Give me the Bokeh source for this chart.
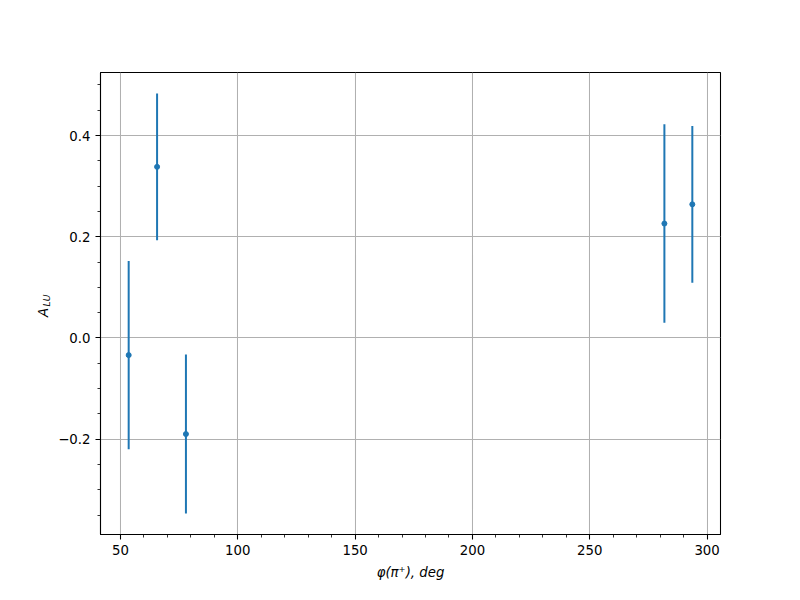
import math
from bokeh.plotting import figure
from bokeh.models import (Range1d, FixedTicker, CustomJSTickFormatter, Label,
                          ColumnDataSource)
from bokeh.embed import file_html
from bokeh.resources import INLINE

# ---- data ----
phi_deg = [53.5, 65.6, 77.9, 281.8, 293.7]
a_lu = [-0.034, 0.338, -0.190, 0.226, 0.264]
a_lu_err = [0.186, 0.145, 0.157, 0.196, 0.155]

x_major_ticks = [50, 100, 150, 200, 250, 300]
x_minor_ticks = [50, 60, 70, 80, 90, 100, 110, 120, 130, 140, 150, 160, 170, 180, 190,
                 200, 210, 220, 230, 240, 250, 260, 270, 280, 290, 300]
y_major_ticks = [-0.2, 0.0, 0.2, 0.4]
y_minor_ticks = [-0.35, -0.3, -0.25, -0.2, -0.15, -0.1, -0.05, 0.0, 0.05, 0.1, 0.15,
                 0.2, 0.25, 0.3, 0.35, 0.4, 0.45, 0.5]

x_label = "φ(π⁺), deg"
y_label_main = "A"
y_label_sub = "LU"

BLUE = "#1f77b4"
FONT = "DejaVu Sans"

lower = [v - e for v, e in zip(a_lu, a_lu_err)]
upper = [v + e for v, e in zip(a_lu, a_lu_err)]
src = ColumnDataSource(dict(x=phi_deg, y=a_lu, lo=lower, hi=upper))

# matplotlib-like 5% margins
xmin, xmax = min(phi_deg), max(phi_deg)
ymin, ymax = min(lower), max(upper)
xm = 0.05 * (xmax - xmin)
ym = 0.05 * (ymax - ymin)
x0, x1 = xmin - xm, xmax + xm
y0, y1 = ymin - ym, ymax + ym

p = figure(output_backend="svg", toolbar_location=None,
           frame_width=620, frame_height=462,
           x_range=Range1d(x0, x1), y_range=Range1d(y0, y1),
           min_border_left=100, min_border_top=72,
           min_border_right=80, min_border_bottom=66)
p.background_fill_color = "white"
p.border_fill_color = "white"
p.outline_line_color = "black"
p.outline_line_width = 1.07

p.segment(x0="x", y0="lo", x1="x", y1="hi", source=src, line_color=BLUE, line_width=2)
p.scatter(x="x", y="y", source=src, size=5, fill_color=BLUE, line_color=BLUE)

p.xaxis.ticker = FixedTicker(ticks=x_major_ticks, minor_ticks=x_minor_ticks)
p.yaxis.ticker = FixedTicker(ticks=y_major_ticks, minor_ticks=y_minor_ticks)
p.xaxis.formatter = CustomJSTickFormatter(code="return tick.toFixed(0).replace('-', '\u2212');")
p.yaxis.formatter = CustomJSTickFormatter(code="var s = tick.toFixed(1); if (Math.abs(tick) < 1e-9) s = '0.0'; return s.replace('-', '\u2212');")

for ax in (p.xaxis[0], p.yaxis[0]):
    ax.axis_line_color = "black"
    ax.axis_line_width = 1.07
    ax.major_tick_line_color = "black"
    ax.minor_tick_line_color = "black"
    ax.major_tick_line_width = 1.07
    ax.minor_tick_line_width = 0.8
    ax.major_tick_out = 5
    ax.major_tick_in = 0
    ax.minor_tick_out = 3
    ax.minor_tick_in = 0
    ax.major_label_standoff = 5
    ax.major_label_text_font = FONT
    ax.major_label_text_font_size = "13.3px"
    ax.major_label_text_color = "black"
    ax.axis_label_text_font = FONT
    ax.axis_label_text_font_size = "13.3px"
    ax.axis_label_text_font_style = "italic"
    ax.axis_label_text_color = "black"

p.xaxis.axis_label = x_label
p.xaxis.axis_label_standoff = 7

p.xgrid.ticker = FixedTicker(ticks=x_major_ticks)
p.ygrid.ticker = FixedTicker(ticks=y_major_ticks)
for g in (p.xgrid[0], p.ygrid[0]):
    g.grid_line_color = "#b0b0b0"
    g.grid_line_width = 1.07

# y-axis label A_LU (rotated, with subscript), placed in the left border panel
ymid = 0.5 * (y0 + y1)
p.add_layout(Label(x=x0, y=ymid, x_offset=-57, y_offset=-9,
                   text=y_label_main, angle=math.pi / 2,
                   text_align="center", text_baseline="alphabetic",
                   text_font=FONT, text_font_size="13.3px", text_font_style="italic",
                   text_color="black"), "left")
p.add_layout(Label(x=x0, y=ymid, x_offset=-54.5, y_offset=3,
                   text=y_label_sub, angle=math.pi / 2,
                   text_align="center", text_baseline="alphabetic",
                   text_font=FONT, text_font_size="9.3px", text_font_style="italic",
                   text_color="black"), "left")

open("out.html", "w").write(file_html(p, INLINE))
